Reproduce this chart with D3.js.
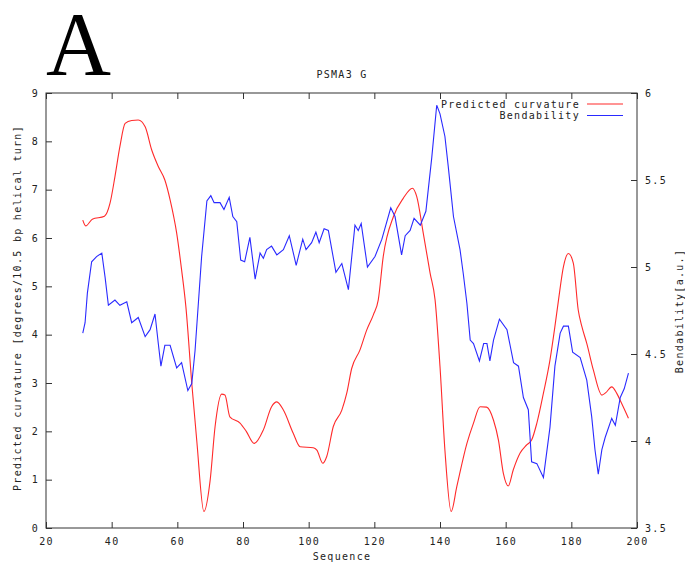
<!DOCTYPE html>
<html>
<head>
<meta charset="utf-8">
<script src="https://cdn.jsdelivr.net/npm/d3@7"></script>
<style>
  body { margin: 0; background: #fff; }
  svg text { font-family: "DejaVu Sans Mono", monospace; font-size: 10px; letter-spacing: 1.3px; fill: #222; }
</style>
</head>
<body>
<svg id="chart" width="685" height="562"></svg>
<script>
// sequence position / curvature (left axis)
const curvSeq = [31.2, 32.1, 34.1, 37.8, 39.5, 41.0, 42.5, 44.1, 46.1, 48.1, 50.2, 52.2, 54.2, 56.2, 57.8, 59.8, 61.3, 62.6, 64.4, 65.9, 68.1, 70.0, 71.5, 73.5, 74.5, 76.0, 79.1, 81.0, 83.4, 86.2, 88.7, 90.3, 92.3, 95.3, 97.4, 101.4, 102.5, 104.3, 105.5, 107.5, 110.1, 111.6, 113.1, 115.6, 117.7, 119.7, 121.2, 122.7, 125.8, 128.8, 131.6, 132.9, 134.9, 137.0, 138.5, 140.0, 141.5, 143.4, 145.1, 148.2, 150.2, 152.2, 154.2, 156.3, 157.8, 159.3, 160.8, 162.3, 164.4, 166.4, 167.9, 169.5, 171.5, 173.5, 175.0, 176.1, 177.6, 179.1, 180.6, 182.1, 183.2, 184.7, 186.7, 189.3, 190.5, 192.3, 193.8, 195.3, 197.4];
const curvVal = [6.37, 6.25, 6.39, 6.45, 6.72, 7.27, 7.89, 8.37, 8.43, 8.44, 8.30, 7.82, 7.48, 7.20, 6.79, 6.10, 5.34, 4.58, 2.99, 1.82, 0.34, 0.99, 2.10, 2.77, 2.75, 2.30, 2.17, 2.00, 1.75, 2.03, 2.51, 2.61, 2.44, 1.96, 1.68, 1.66, 1.61, 1.34, 1.48, 2.10, 2.44, 2.79, 3.30, 3.68, 4.10, 4.41, 4.72, 5.61, 6.44, 6.82, 7.03, 6.86, 6.10, 5.27, 4.72, 3.34, 1.61, 0.34, 0.85, 1.75, 2.17, 2.51, 2.50, 2.23, 1.82, 1.13, 0.87, 1.20, 1.55, 1.72, 1.82, 2.17, 2.79, 3.48, 4.17, 4.72, 5.41, 5.68, 5.48, 4.51, 4.17, 3.82, 3.27, 2.75, 2.80, 2.92, 2.79, 2.58, 2.27];

// sequence position / bendability (right axis)
const bendSeq = [31.2, 31.9, 32.6, 33.9, 35.4, 37.0, 38.0, 39.0, 41.0, 42.5, 44.6, 46.1, 48.1, 50.2, 51.7, 53.2, 54.2, 55.0, 56.2, 57.8, 59.8, 61.3, 63.2, 64.4, 65.4, 66.4, 67.4, 69.0, 70.2, 71.2, 73.0, 74.2, 75.8, 76.9, 78.1, 79.3, 80.5, 82.1, 83.7, 85.2, 86.2, 87.2, 88.7, 90.3, 92.3, 94.1, 96.2, 98.2, 99.2, 100.9, 102.2, 103.2, 104.7, 106.0, 108.3, 110.1, 112.1, 114.1, 115.1, 116.0, 117.9, 120.2, 122.3, 125.0, 126.3, 128.3, 129.4, 130.9, 132.1, 134.0, 135.7, 137.5, 139.0, 140.0, 141.5, 142.5, 144.1, 146.1, 147.1, 148.2, 149.2, 150.2, 152.0, 153.3, 154.3, 155.2, 156.3, 158.1, 160.4, 162.4, 163.9, 165.4, 166.9, 167.9, 169.5, 171.5, 173.5, 175.0, 176.6, 177.6, 179.1, 180.4, 182.7, 184.7, 186.2, 187.2, 188.2, 189.3, 190.3, 192.3, 193.4, 194.9, 196.1, 197.4];
const bendVal = [4.62, 4.68, 4.85, 5.03, 5.06, 5.08, 4.94, 4.78, 4.81, 4.78, 4.80, 4.68, 4.71, 4.60, 4.64, 4.73, 4.56, 4.43, 4.55, 4.55, 4.42, 4.45, 4.29, 4.33, 4.52, 4.79, 5.06, 5.38, 5.41, 5.37, 5.37, 5.33, 5.40, 5.29, 5.26, 5.04, 5.03, 5.17, 4.93, 5.08, 5.05, 5.10, 5.12, 5.07, 5.10, 5.18, 5.01, 5.16, 5.10, 5.14, 5.20, 5.14, 5.22, 5.21, 4.97, 5.02, 4.87, 5.24, 5.21, 5.25, 5.00, 5.06, 5.16, 5.34, 5.29, 5.07, 5.18, 5.21, 5.28, 5.24, 5.32, 5.63, 5.93, 5.88, 5.75, 5.58, 5.29, 5.10, 4.96, 4.79, 4.58, 4.56, 4.46, 4.56, 4.56, 4.46, 4.58, 4.70, 4.64, 4.45, 4.43, 4.25, 4.18, 3.88, 3.87, 3.79, 4.08, 4.43, 4.62, 4.66, 4.66, 4.51, 4.48, 4.35, 4.14, 3.95, 3.81, 3.95, 4.02, 4.13, 4.09, 4.25, 4.30, 4.39];

const xTicks = [20, 40, 60, 80, 100, 120, 140, 160, 180, 200];
const yTicks = [0, 1, 2, 3, 4, 5, 6, 7, 8, 9];
const y2Ticks = [3.5, 4, 4.5, 5, 5.5, 6];
const seriesNames = ["Predicted curvature", "Bendability"];
const seriesColors = ["#ff2a2a", "#2a2aff"];

const svg = d3.select("#chart");
const plotL = 46, plotR = 637, plotT = 93, plotB = 528;

const x = d3.scaleLinear().domain([20, 200]).range([plotL, plotR]);
const y = d3.scaleLinear().domain([0, 9]).range([plotB, plotT]);
const y2 = d3.scaleLinear().domain([3.5, 6]).range([plotB, plotT]);

// big panel letter
svg.append("text")
    .attr("x", 46).attr("y", 75)
    .style("font-family", "'Liberation Serif', 'Times New Roman', serif")
    .style("font-size", "90px")
    .style("letter-spacing", "0px")
    .style("fill", "#000")
    .text("A");

svg.append("text")
    .attr("x", 342).attr("y", 78)
    .attr("text-anchor", "middle")
    .text("PSMA3 G");

// frame
svg.append("rect")
    .attr("x", plotL).attr("y", plotT)
    .attr("width", plotR - plotL).attr("height", plotB - plotT)
    .attr("fill", "none").attr("stroke", "#333").attr("stroke-width", 1);

// axes with inward ticks (gnuplot look)
let tk = 6;
svg.append("g").attr("transform", `translate(0,${plotB})`)
    .call(d3.axisBottom(x).tickValues(xTicks).tickSize(-tk).tickPadding(10).tickFormat(d3.format("d")))
    .call(g => g.select(".domain").remove());
svg.append("g").attr("transform", `translate(0,${plotT})`)
    .call(d3.axisTop(x).tickValues(xTicks).tickSize(-tk).tickFormat(""))
    .call(g => g.select(".domain").remove());
svg.append("g").attr("transform", `translate(${plotL},0)`)
    .call(d3.axisLeft(y).tickValues(yTicks).tickSize(-tk).tickPadding(7).tickFormat(d3.format("d")))
    .call(g => g.select(".domain").remove());
svg.append("g").attr("transform", `translate(${plotR},0)`)
    .call(d3.axisRight(y2).tickValues(y2Ticks).tickSize(-tk).tickPadding(8).tickFormat(d => d))
    .call(g => g.select(".domain").remove());

svg.selectAll(".tick line").attr("stroke", "#333");
svg.selectAll(".tick text").style("font-family", "'DejaVu Sans Mono', monospace").style("font-size", "10px").attr("fill", "#222");

// axis titles
svg.append("text")
    .attr("x", 342).attr("y", 560)
    .attr("text-anchor", "middle")
    .text("Sequence");
svg.append("text")
    .attr("transform", "translate(21,308) rotate(-90)")
    .attr("text-anchor", "middle")
    .text("Predicted curvature [degrees/10.5 bp helical turn]");
svg.append("text")
    .attr("transform", "translate(683,311) rotate(-90)")
    .attr("text-anchor", "middle")
    .text("Bendability[a.u.]");

// lines
const curv = curvSeq.map((s, i) => [s, curvVal[i]]);
const bend = bendSeq.map((s, i) => [s, bendVal[i]]);

svg.append("path").datum(curv)
    .attr("fill", "none").attr("stroke", seriesColors[0]).attr("stroke-width", 1.1)
    .attr("d", d3.line().x(d => x(d[0])).y(d => y(d[1])).curve(d3.curveMonotoneX));
svg.append("path").datum(bend)
    .attr("fill", "none").attr("stroke", seriesColors[1]).attr("stroke-width", 1.1)
    .attr("d", d3.line().x(d => x(d[0])).y(d => y2(d[1])));

// legend
seriesNames.forEach((name, i) => {
    let ly = 104 + i * 11.5;
    svg.append("text")
        .attr("x", 580).attr("y", ly + 3.5)
        .attr("text-anchor", "end")
        .text(name);
    svg.append("line")
        .attr("x1", 587).attr("x2", 623)
        .attr("y1", ly).attr("y2", ly)
        .attr("stroke", seriesColors[i]).attr("stroke-width", 1.1);
});
</script>
</body>
</html>
